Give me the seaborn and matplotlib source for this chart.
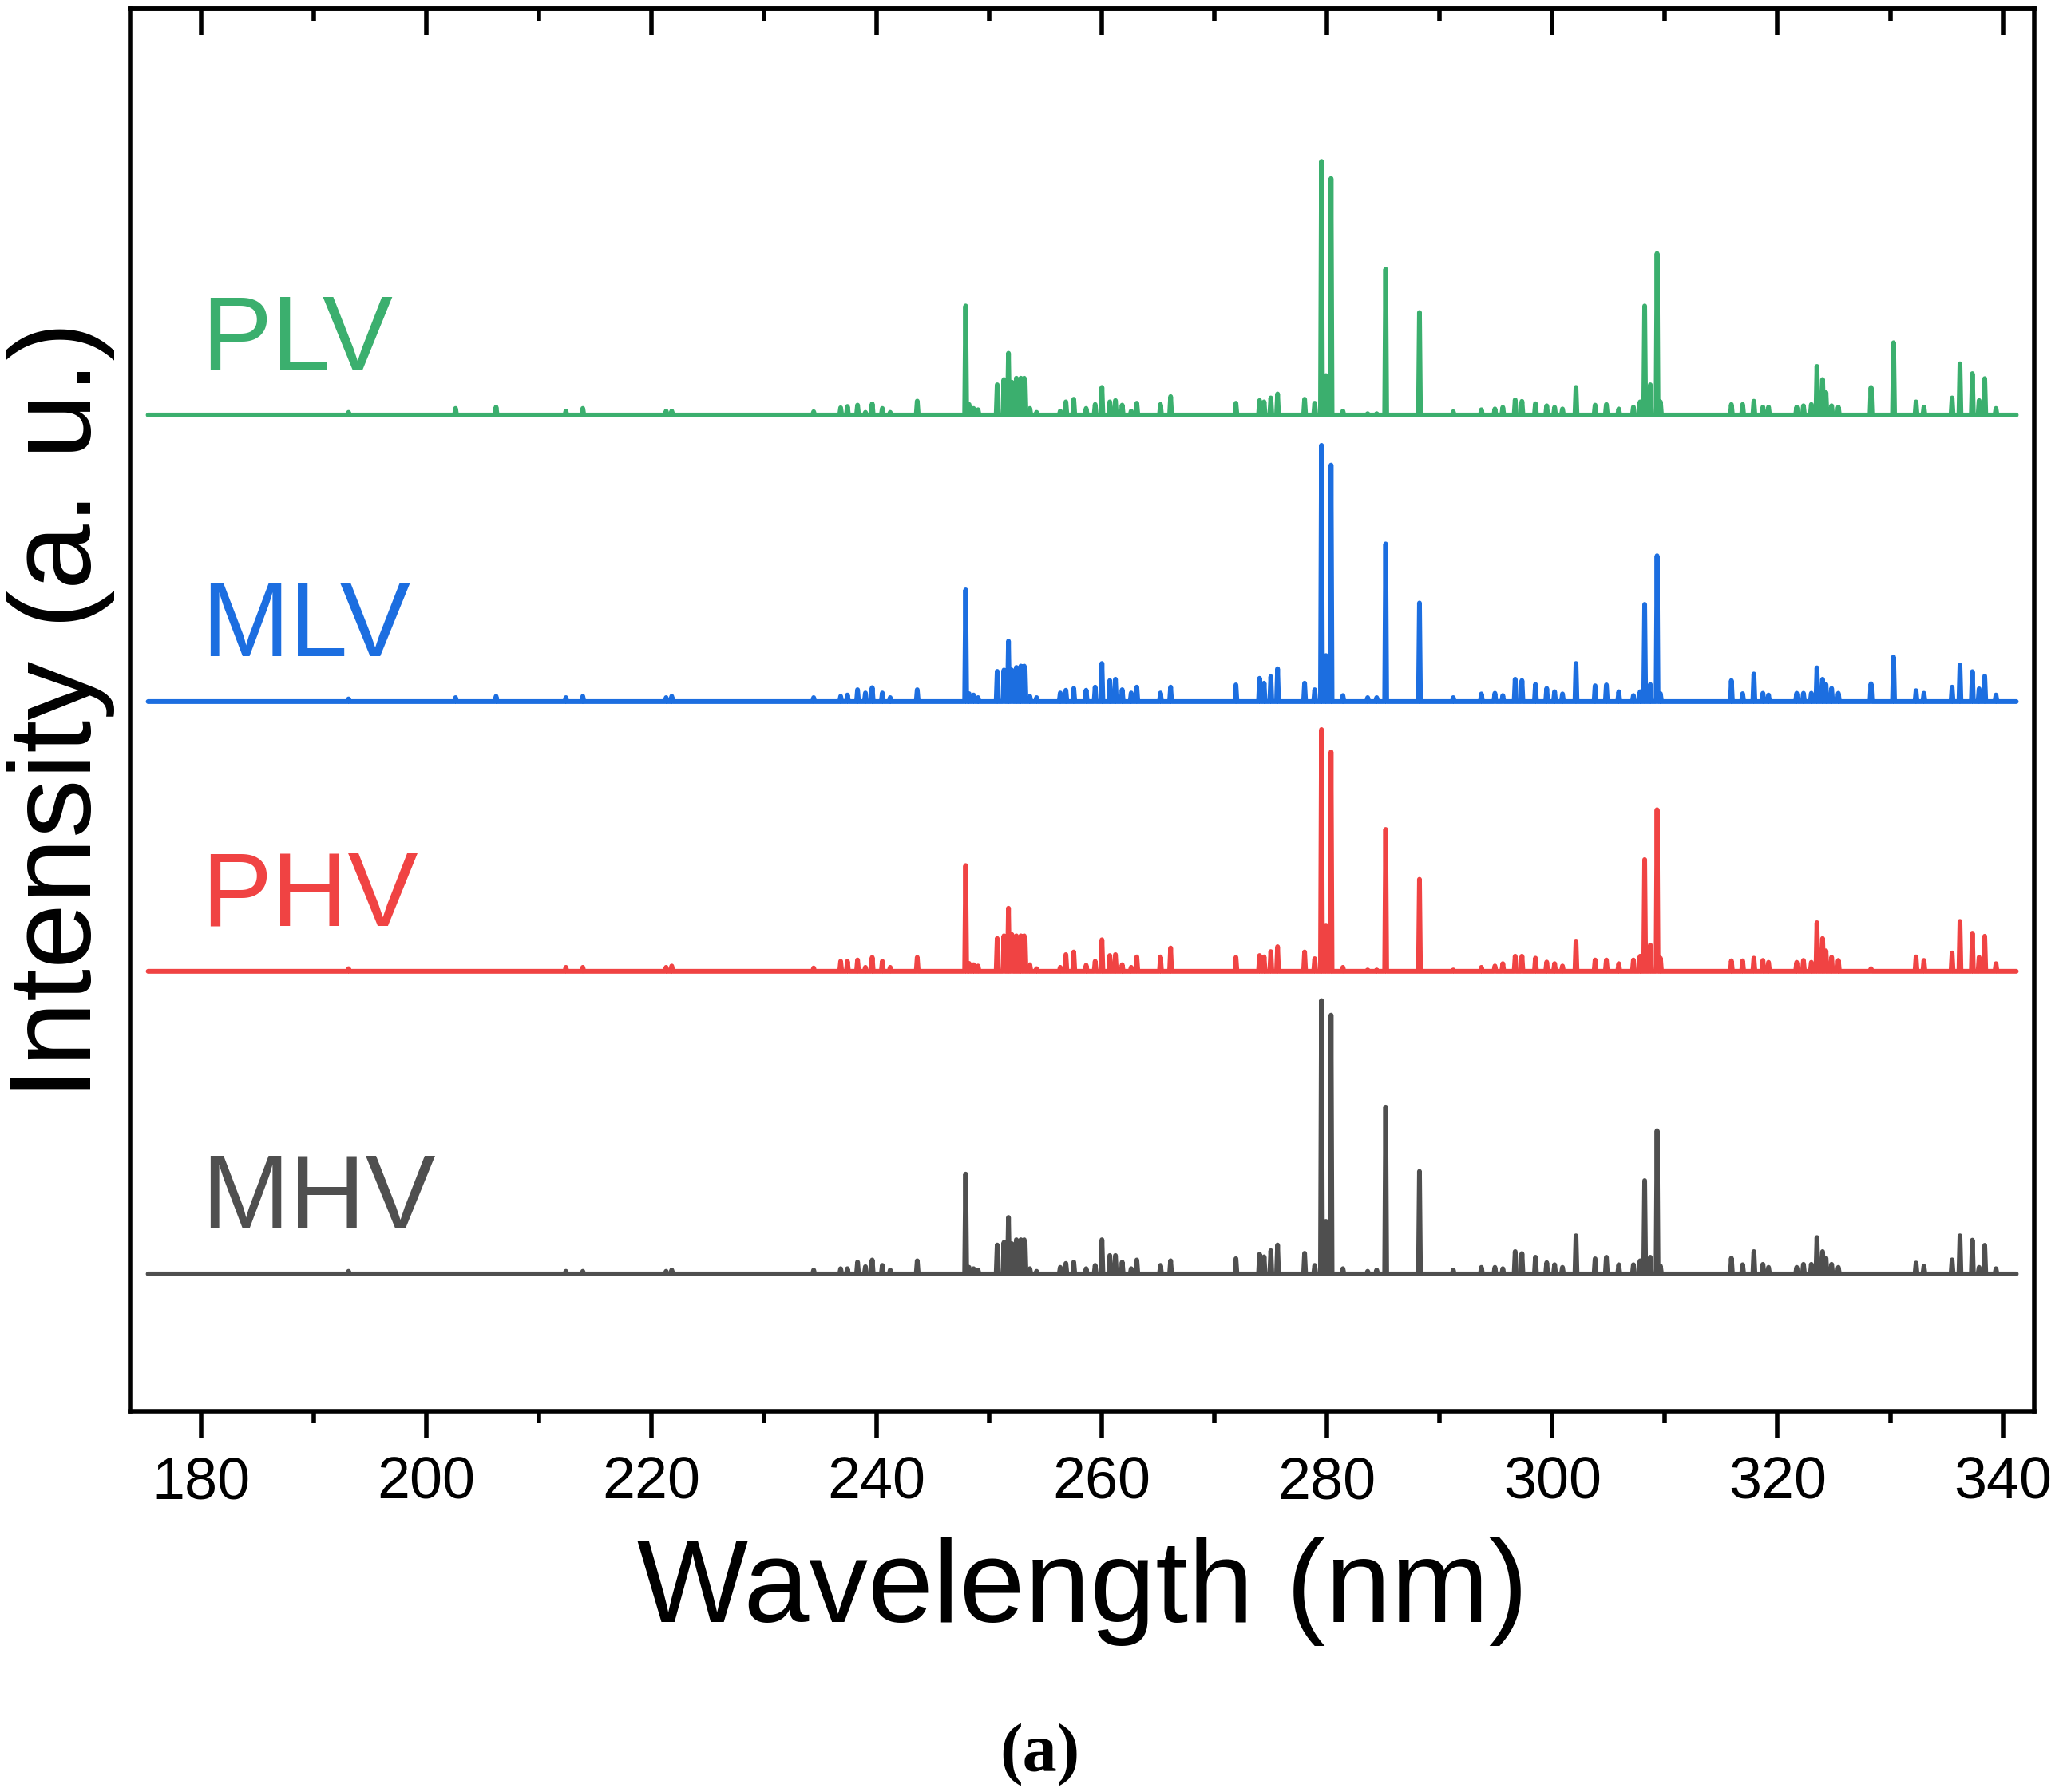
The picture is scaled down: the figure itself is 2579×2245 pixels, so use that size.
import numpy as np
import pandas as pd
import matplotlib
matplotlib.use('Agg')
import matplotlib.pyplot as plt
from matplotlib.ticker import MultipleLocator
import seaborn as sns

# LIBS emission spectra, four samples, stacked with a vertical offset
samples = ['PLV', 'MLV', 'PHV', 'MHV']
colors = ['#3BAF6E', '#1C6EE0', '#F04343', '#4F4F4F']
offsets = [653.7, 435.6, 230.3, 0.0]   # a.u. shift of each trace

wl_start, wl_end = 175.3, 341.2

# line positions (nm), shared by all samples
peak_nm = [193.1, 202.6, 206.2, 212.4, 213.9, 221.3, 221.8,
           234.4, 236.8, 237.4, 238.3, 239.0, 239.6, 240.5, 241.2, 243.6,
           247.9, 248.2, 248.6, 249.0, 250.7, 251.3, 251.7, 252.0, 252.4,
           252.8, 253.1, 253.6, 254.2, 256.3, 256.8, 257.5, 258.6, 259.4,
           260.0, 260.7, 261.2, 261.8, 262.6, 263.1, 265.2, 266.1, 271.9,
           274.0, 274.4, 275.0, 275.6, 278.0, 278.9, 279.5, 279.9, 280.35,
           281.4, 283.6, 284.4, 285.2, 288.2, 291.2, 293.7, 294.9, 295.6,
           296.7, 297.3, 298.5, 299.5, 300.2, 300.9, 302.1, 303.8, 304.8,
           305.9, 307.2, 307.8, 308.2, 308.7, 309.3, 309.6, 315.9, 316.9,
           317.9, 318.7, 319.2, 321.7, 322.3, 323.0, 323.5, 324.0, 324.3,
           324.8, 325.4, 328.3, 330.3, 332.3, 333.0, 335.5, 336.2, 337.3,
           337.9, 338.4, 339.4]

plv_int = [2, 5, 6, 3, 5, 3, 3,
           2.5, 5.5, 6.5, 7.5, 2, 8.5, 5, 2, 10.6,
           83, 8, 5, 4, 23, 27, 47, 25, 28,
           28, 28, 5, 2, 3, 10, 12, 5, 8,
           21, 10, 11, 7.5, 3, 9, 8, 14, 9,
           11, 10, 13, 16, 12, 9, 193, 30, 180,
           3, 1, 1, 111, 78, 2.5, 4, 4.6, 5.8,
           11.5, 10.4, 8.6, 7, 5.8, 4.6, 21, 7.5, 8,
           4.6, 6, 10, 83, 23, 123, 10, 8, 8,
           10.5, 6, 6, 6, 7, 8, 37, 27, 17,
           7, 6, 21, 55, 10, 6, 13, 39, 31.5,
           11, 27.7, 5]

mlv_int = [2, 3, 4, 3, 4, 3, 4,
           3, 4, 5, 9, 6.5, 10.6, 6.5, 3, 9,
           85, 6, 5, 3, 23, 24, 46, 24, 26,
           27, 27, 4, 3, 6.5, 8.6, 10, 8.6, 11,
           29, 16, 17, 9, 6.5, 11, 6.5, 11, 12.7,
           17.7, 14, 19, 25, 14, 9, 195, 35, 180,
           4.6, 3, 3, 120, 75, 3, 5.8, 6.3, 4.6,
           17, 16, 13, 10, 7.5, 5.8, 29, 12, 12.7,
           7.5, 4.6, 7.5, 74, 13, 111, 6, 16, 6,
           21, 6.3, 5, 6.3, 6.3, 6.3, 25.7, 17, 13,
           10, 6.3, 13.6, 34, 8.3, 6.3, 11, 27.7, 22.8,
           9.7, 19.4, 5]

phv_int = [2, 0, 0, 3, 3, 3, 4,
           2.5, 7.6, 7.6, 8.6, 3, 10.6, 7.6, 3, 10.6,
           80.5, 6, 5, 4, 25, 27, 48, 28, 27,
           27, 27, 5, 2, 3, 12.7, 14.7, 4.6, 7.6,
           24, 12, 12.7, 5, 3, 11, 11, 17.7, 10.6,
           12, 11, 15, 18.7, 14.7, 9.6, 184, 35, 167,
           3, 1, 1, 108, 70, 1, 3, 4, 5.8,
           11.5, 11.5, 10, 7, 5.8, 4, 23, 8.6, 8.6,
           5.8, 8.6, 11.5, 85, 20, 123, 10, 8, 8,
           10, 8.3, 6.8, 6.8, 8.3, 6.8, 37, 25, 15.5,
           10.7, 8.3, 2, 0, 11, 8.3, 14, 38, 29,
           10.7, 26.7, 5.8]

mhv_int = [2, 0, 0, 2, 2, 2, 3,
           3, 4, 4, 9, 5.5, 10.6, 6.5, 3, 10,
           76, 5, 4, 3, 22, 24, 43, 23, 26,
           26, 26, 4, 2, 5, 8, 9, 4, 6.5,
           26, 14, 14, 9, 4, 10.6, 6.5, 10, 11.6,
           15, 13, 17.7, 22, 15.7, 6.5, 208, 40, 197,
           4, 2, 3, 127, 78, 3, 5, 5, 4,
           17, 15.5, 12.7, 8.6, 7, 5, 29, 11.5, 12.7,
           7, 7, 10, 71, 12.7, 109, 6, 12, 7,
           17, 7.3, 5, 5, 7.3, 7.3, 27.7, 17, 12,
           7.3, 5, 0, 0, 8.3, 5.8, 10.7, 29, 25.7,
           5, 21.8, 4]

intensities = [plv_int, mlv_int, phv_int, mhv_int]

# build the traces: each emission line is a narrow spike on a flat baseline
half_w = 0.09
rows = []
for name, ints, off in zip(samples, intensities, offsets):
    order = np.argsort(peak_nm)
    rows.append((name, wl_start, off))
    for i in order:
        lam, h = peak_nm[i], ints[i]
        if h <= 0:
            continue
        rows.append((name, lam - half_w, off))
        rows.append((name, lam, off + h))
        rows.append((name, lam + half_w, off))
    rows.append((name, wl_end, off))
df = pd.DataFrame(rows, columns=['sample', 'wavelength', 'intensity'])

sns.set_style('ticks')
plt.rcParams['font.family'] = ['Liberation Sans', 'DejaVu Sans']
plt.rcParams['text.color'] = 'black'
plt.rcParams['axes.labelcolor'] = 'black'
plt.rcParams['xtick.color'] = 'black'
plt.rcParams['ytick.color'] = 'black'

fig = plt.figure(figsize=(25.79, 22.45), dpi=100)
ax = fig.add_axes([0.0632, 0.2125, 0.9248, 0.7824])

sns.lineplot(data=df, x='wavelength', y='intensity', hue='sample',
             palette=dict(zip(samples, colors)), estimator=None, sort=False,
             legend=False, linewidth=4.3, ax=ax)

for name, col, off in zip(samples, colors, offsets):
    ax.text(180, off + 34.6, name, color=col, fontsize=95,
            ha='left', va='baseline')

ax.set_xlim(173.7, 342.8)
ax.set_ylim(-104.5, 962.6)
ax.set_yticks([])
ax.xaxis.set_major_locator(MultipleLocator(20))
ax.xaxis.set_minor_locator(MultipleLocator(10))
ax.tick_params(axis='x', which='major', direction='out', length=24, width=4,
               labelsize=53, pad=16, bottom=True, colors='black')
ax.tick_params(axis='x', which='minor', direction='out', length=11, width=4,
               bottom=True, colors='black')
for sp in ax.spines.values():
    sp.set_visible(True)
    sp.set_linewidth(4)
    sp.set_color('black')

top = ax.secondary_xaxis('top')
top.xaxis.set_major_locator(MultipleLocator(20))
top.xaxis.set_minor_locator(MultipleLocator(10))
top.tick_params(which='major', direction='in', length=24, width=4,
                labeltop=False, colors='black')
top.tick_params(which='minor', direction='in', length=11, width=4,
                colors='black')
top.spines['top'].set_linewidth(4)
top.spines['top'].set_color('black')

ax.set_xlabel('Wavelength (nm)', fontsize=106, labelpad=24, color='black')
ax.set_ylabel('Intensity (a. u.)', fontsize=106, labelpad=14, color='black')

fig.text(0.5049, 0.012, '(a)', ha='center', va='baseline', fontsize=62,
         family='Liberation Serif', weight='bold', color='black')

fig.savefig('out.png', dpi=100)
